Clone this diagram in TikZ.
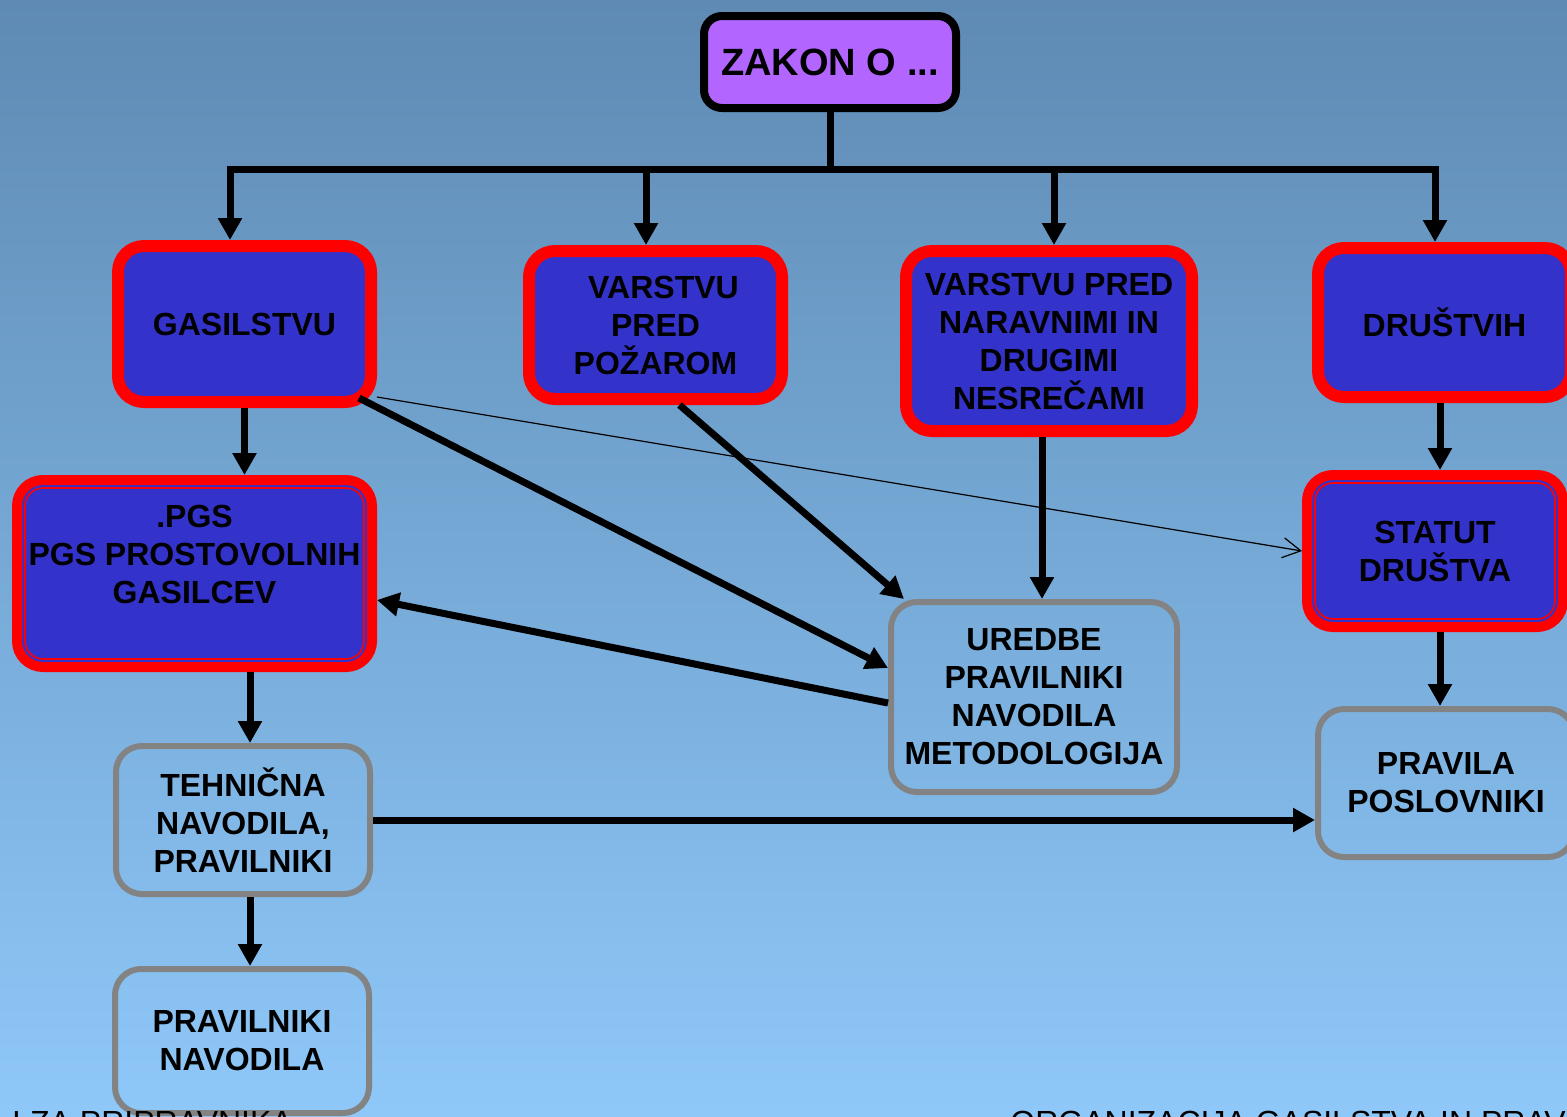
\documentclass[tikz,border=0pt]{standalone}
\usepackage{fontspec}
\setmainfont{Liberation Sans}
\usepackage{xcolor}
\usetikzlibrary{positioning,shapes.geometric,fit,arrows.meta}
\definecolor{bgtop}{HTML}{5E8AB3}
\definecolor{bgbot}{HTML}{8EC8F9}
\definecolor{boxblue}{HTML}{3333CC}
\definecolor{boxred}{HTML}{FF0000}
\definecolor{lilac}{HTML}{B266FF}
\definecolor{frame}{HTML}{838383}
\tikzset{
  box/.style={rounded corners=13pt, align=center, inner sep=0pt,
    font=\bfseries\fontsize{16}{19}\selectfont},
  redbox/.style={box, draw=boxred, line width=6pt, fill=boxblue},
  twinbox/.style={box, draw=boxred, line width=5pt, fill=boxblue},
  greybox/.style={box, draw=frame, line width=3pt},
  inner line/.style={draw=boxred, line width=0.8pt, rounded corners=9pt},
  foot/.style={anchor=base west, inner sep=0pt, font=\fontsize{16}{18}\selectfont},
  arr/.style={line width=3.5pt, -{Triangle[length=11pt,width=11.5pt]}},
  thinarr/.style={line width=0.6pt, -{Straight Barb[length=9pt,width=10pt]}}
}
\begin{document}
\begin{tikzpicture}[x=0.5pt, y=-0.5pt]
      \useasboundingbox (0,0) rectangle (1567,1116);
      \clip (0,0) rectangle (1567,1116);
      \shade[top color=bgtop, bottom color=bgbot] (0,0) rectangle (1567,1116);

      % Nodes
      \node (zakon) [box, draw=black, line width=4pt, fill=lilac, rounded corners=9pt,
        minimum width=126pt, minimum height=46pt, font=\bfseries\fontsize{19}{22}\selectfont]
        at (830,62) {ZAKON O ...};
      \node (gas) [redbox, minimum width=126.5pt, minimum height=78pt] at (244.5,324) {GASILSTVU};
      \node (poz) [redbox, minimum width=126.5pt, minimum height=74pt] at (655.5,325)
        {\hspace*{8pt}VARSTVU\\PRED\\POŽAROM};
      \node (nar) [redbox, minimum width=143pt, minimum height=90pt] at (1049,341)
        {VARSTVU PRED\\NARAVNIMI IN\\DRUGIMI\\NESREČAMI};
      \node (dru) [redbox, minimum width=126.5pt, minimum height=74.5pt] at (1444.5,322.5) {DRUŠTVIH};
      \node (pgs) [twinbox, minimum width=177.5pt, minimum height=93.5pt] at (194.5,573.5)
        {.PGS\\PGS PROSTOVOLNIH\\GASILCEV\\\mbox{}};
      \node (stat) [twinbox, minimum width=128pt, minimum height=76pt] at (1435,551) {STATUT\\DRUŠTVA};
      \node (ure) [greybox, minimum width=143pt, minimum height=95pt] at (1034,697)
        {UREDBE\\PRAVILNIKI\\NAVODILA\\METODOLOGIJA};
      \node (teh) [greybox, minimum width=127pt, minimum height=74pt] at (243,820)
        {TEHNIČNA\\NAVODILA,\\PRAVILNIKI};
      \node (pra) [greybox, minimum width=128pt, minimum height=74pt] at (1446,783) {PRAVILA\\POSLOVNIKI};
      \node (prn) [greybox, minimum width=127pt, minimum height=72pt] at (242,1041) {PRAVILNIKI\\NAVODILA};
      \foreach \n in {pgs,stat}
        \draw[inner line] ([shift={(6.5pt,6.5pt)}]\n.south west) rectangle ([shift={(-6.5pt,-6.5pt)}]\n.north east);

      % footer
      \node (footl) [foot] at (12,1133) {LZA  PRIPRAVNIKA};
      \node (footr) [foot] at (1010,1133) {ORGANIZACIJA GASILSTVA IN PRAV};

      % Arrows
      \coordinate (busl) at (230,169);
      \coordinate (busr) at (1435,169);
      \coordinate (bus1) at (646,169);
      \coordinate (bus2) at (1054,169);
      \draw[line width=3.5pt] (zakon.south) -- (zakon.south |- busl);
      \draw[line width=3.5pt, line cap=rect] (busl) -- (busr);
      \draw[arr] (busl) -- (busl |- gas.north);
      \draw[arr] (bus1) -- (bus1 |- poz.north);
      \draw[arr] (bus2) -- (bus2 |- nar.north);
      \draw[arr] (busr) -- (busr |- dru.north);
      \draw[arr] (gas.south) -- (gas.south |- pgs.north);
      \draw[arr] ([xshift=-9pt,yshift=5pt]gas.south east) -- ([yshift=14.5pt]ure.west);
      \draw[thinarr] ([yshift=5.5pt]gas.south east) -- (stat.west);
      \draw[arr] ([xshift=12pt]poz.south) -- ([xshift=8pt]ure.north west);
      \draw[arr] ([xshift=-3.5pt]nar.south) -- ([xshift=4pt]ure.north);
      \draw[arr] ([yshift=-3pt]ure.west) -- ([yshift=-13.25pt]pgs.east);
      \draw[arr] ([xshift=27.75pt]pgs.south) -- ([xshift=3.5pt]teh.north);
      \draw[arr] ([xshift=3.5pt]teh.south) -- ([xshift=4pt]prn.north);
      \draw[arr] (teh.east) -- (teh.east -| pra.west);
      \draw[arr] ([xshift=-2.25pt]dru.south) -- ([xshift=2.5pt]stat.north);
      \draw[arr] ([xshift=2.5pt]stat.south) -- ([xshift=-3pt]pra.north);
  \end{tikzpicture}
\end{document}
